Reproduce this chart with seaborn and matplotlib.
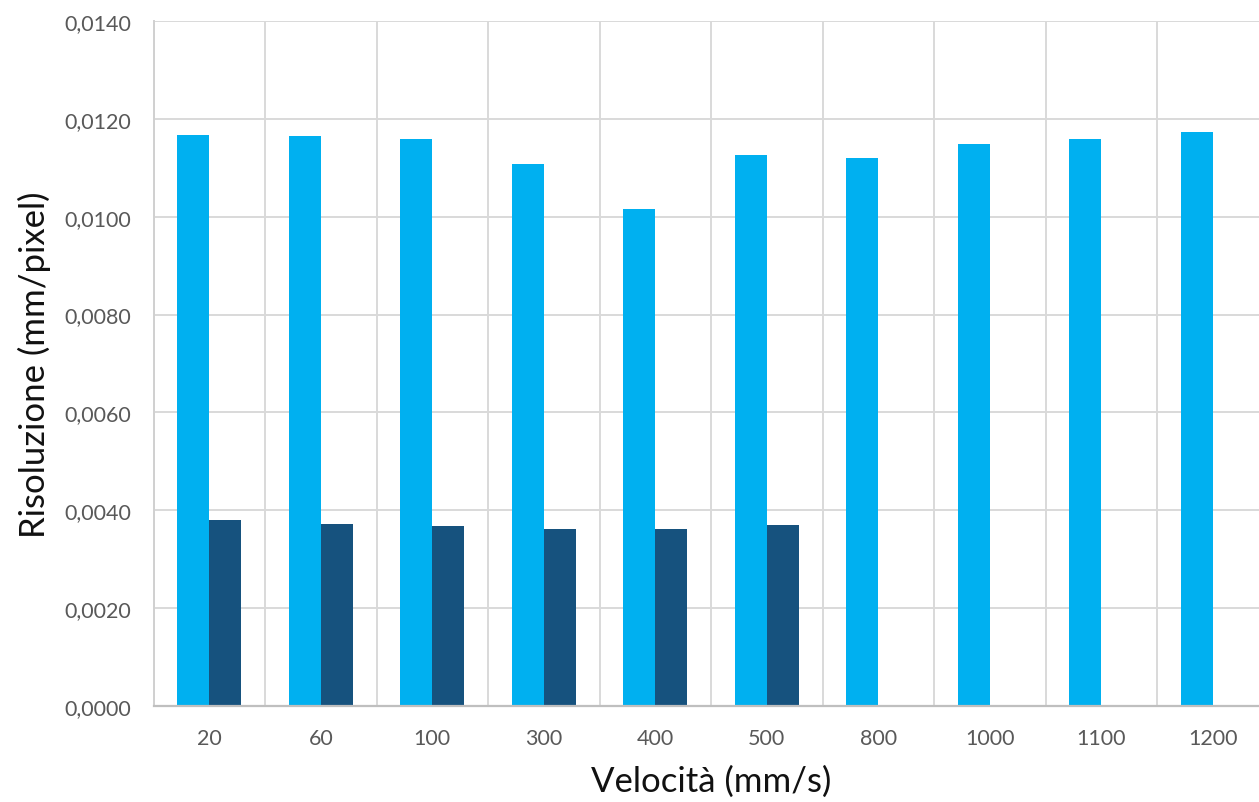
import numpy as np
import pandas as pd
import matplotlib
matplotlib.use("Agg")
import matplotlib.pyplot as plt
from matplotlib.ticker import FuncFormatter, MultipleLocator
import seaborn as sns

# Speeds tested (mm/s) and measured resolution (mm/pixel) for the two setups
velocita = ["20", "60", "100", "300", "400", "500", "800", "1000", "1100", "1200"]
serie_a = [0.01166, 0.01164, 0.01159, 0.01108, 0.01015, 0.01126,
           0.01121, 0.01149, 0.01159, 0.01173]
serie_b = [0.00381, 0.00372, 0.00368, 0.00362, 0.00362, 0.00370,
           np.nan, np.nan, np.nan, np.nan]
nomi_serie = ["A", "B"]
colori = ["#00B0F0", "#16527E"]

df = pd.DataFrame({
    "Velocità": velocita * 2,
    "Risoluzione": serie_a + serie_b,
    "Serie": [nomi_serie[0]] * len(velocita) + [nomi_serie[1]] * len(velocita),
})

sns.set_theme(style="white")
plt.rcParams["font.family"] = ["Lato", "DejaVu Sans"]

fig = plt.figure(figsize=(12.59, 8.03), dpi=100)
ax = fig.add_axes([153.5 / 1259, 1 - 707 / 803, 1115 / 1259, 685 / 803])

sns.barplot(data=df, x="Velocità", y="Risoluzione", hue="Serie",
            order=velocita, hue_order=nomi_serie, palette=colori,
            saturation=1, width=0.574, gap=0, dodge=True, legend=False,
            linewidth=0, ax=ax)

ax.set_xlim(-0.5, len(velocita) - 0.5)
ax.set_ylim(0, 0.0140)
ax.yaxis.set_major_locator(MultipleLocator(0.002))
ax.yaxis.set_major_formatter(FuncFormatter(lambda v, _: f"{v:.4f}".replace(".", ",")))

# category boundaries as vertical gridlines
ax.set_xticks(np.arange(-0.5, len(velocita), 1.0), minor=True)
ax.grid(axis="y", which="major", color="#D9D9D9", linewidth=1.4)
ax.grid(axis="x", which="minor", color="#D9D9D9", linewidth=1.4)
ax.set_axisbelow(True)

for side in ["top", "right"]:
    ax.spines[side].set_visible(False)
ax.spines["left"].set_color("#D0D0D0")
ax.spines["left"].set_linewidth(1.4)
ax.spines["bottom"].set_color("#BFBFBF")
ax.spines["bottom"].set_linewidth(1.6)

ax.tick_params(axis="both", which="both", length=0, labelsize=15.5,
               labelcolor="#595959", pad=16)

ax.set_xlabel("Velocità (mm/s)", fontsize=25, color="#111111", labelpad=12)
ax.set_ylabel("Risoluzione (mm/pixel)", fontsize=25, color="#111111", labelpad=10)

fig.savefig("out.png", dpi=100, facecolor="white")
